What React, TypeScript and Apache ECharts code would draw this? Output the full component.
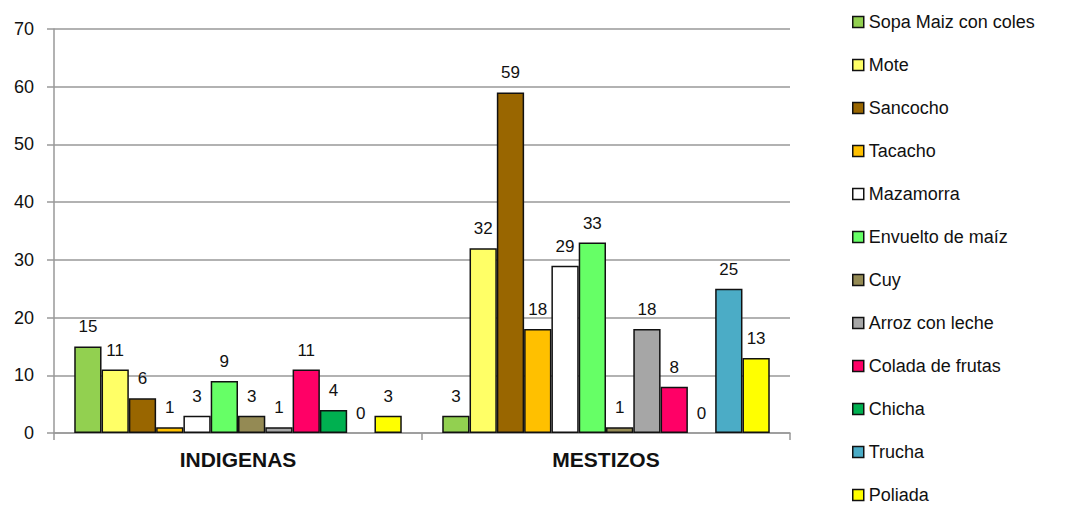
import React, { useEffect, useRef } from "react";
import * as echarts from "echarts";

const categories = ["INDIGENAS", "MESTIZOS"];
const seriesNames = [
  "Sopa Maiz con coles",
  "Mote",
  "Sancocho",
  "Tacacho",
  "Mazamorra",
  "Envuelto de maíz",
  "Cuy",
  "Arroz con leche",
  "Colada de frutas",
  "Chicha",
  "Trucha",
  "Poliada",
];
const indigenas = [15, 11, 6, 1, 3, 9, 3, 1, 11, 4, 0, 3];
const mestizos = [3, 32, 59, 18, 29, 33, 1, 18, 8, 0, 25, 13];
const colors = [
  "#92D050",
  "#FFFF66",
  "#996600",
  "#FFC000",
  "#FFFFFF",
  "#66FF66",
  "#948A54",
  "#A6A6A6",
  "#FF0066",
  "#00B050",
  "#4BACC6",
  "#FFFF00",
];
const yTicks = { min: 0, max: 70, interval: 10 };

const FONT = "'Liberation Sans', Arial, sans-serif";

export default function App() {
  const ref = useRef<HTMLDivElement>(null);
  useEffect(() => {
    if (!ref.current) return;
    const chart = echarts.init(ref.current, undefined, { renderer: "svg" });
    const series = seriesNames.map((name, i) => ({
      name,
      type: "bar",
      data: [indigenas[i], mestizos[i]].map((v) => ({
        value: v,
        itemStyle: v === 0 ? { borderWidth: 0 } : undefined,
      })),
      barGap: "0%",
      barCategoryGap: "11%",
      itemStyle: { color: colors[i], borderColor: "#111", borderWidth: 1.5 },
      label: {
        show: true,
        position: "top",
        distance: 11,
        color: "#111",
        fontFamily: FONT,
        fontSize: 17,
      },
    }));
    chart.setOption({
      animation: false,
      backgroundColor: "#fff",
      grid: { left: 54, right: 283, top: 29, bottom: 81 },
      legend: {
        orient: "vertical",
        left: 847,
        top: 8,
        height: 500,
        itemWidth: 11,
        itemHeight: 11,
        itemGap: 25,
        icon: "rect",
        itemStyle: { borderColor: "#111", borderWidth: 1.5 },
        textStyle: { fontFamily: FONT, fontSize: 18, color: "#111", lineHeight: 18 },
        data: seriesNames,
      },
      xAxis: {
        type: "category",
        data: categories,
        axisLine: { lineStyle: { color: "#999", width: 1.5 } },
        axisTick: { show: true, length: 7, lineStyle: { color: "#999", width: 1.5 } },
        axisLabel: {
          margin: 16,
          fontFamily: FONT,
          fontSize: 21,
          fontWeight: "bold",
          color: "#111",
        },
      },
      yAxis: {
        type: "value",
        min: yTicks.min,
        max: yTicks.max,
        interval: yTicks.interval,
        axisLine: { show: true, lineStyle: { color: "#999", width: 1.5 } },
        axisTick: { show: true, length: 7, lineStyle: { color: "#999", width: 1.5 } },
        splitLine: { lineStyle: { color: "#999", width: 1.5 } },
        axisLabel: { margin: 20, fontFamily: FONT, fontSize: 18, color: "#111" },
      },
      series,
    });
    return () => chart.dispose();
  }, []);
  return (
    <div
      ref={ref}
      style={{ position: "fixed", left: 0, top: 0, width: 1073, height: 514, background: "#fff" }}
    />
  );
}
